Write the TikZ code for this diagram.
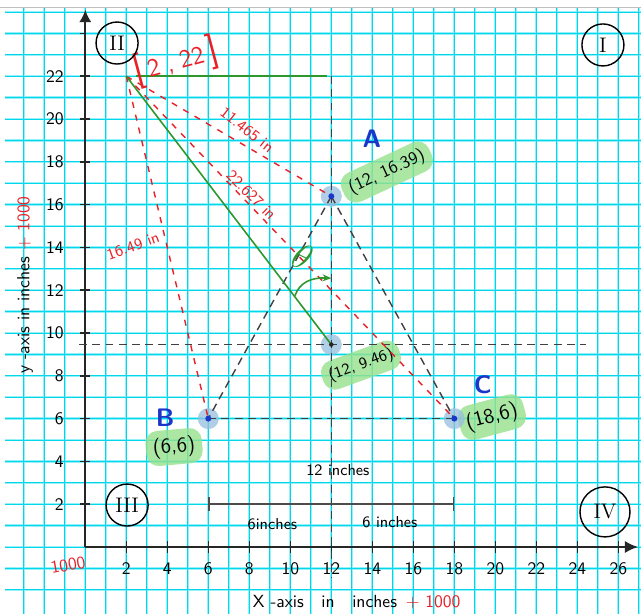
\documentclass[tikz,border=0pt]{standalone}
\usepackage{amsmath}
\usepackage{xcolor}
\usepackage{tikz}
\usetikzlibrary{arrows.meta}
\renewcommand{\familydefault}{\sfdefault}

\definecolor{gridlight}{RGB}{150,240,250}
\definecolor{gridcyan}{RGB}{0,215,235}
\definecolor{penred}{RGB}{232,32,40}
\definecolor{pengreen}{RGB}{45,150,45}
\definecolor{penblue}{RGB}{25,55,200}
\definecolor{halocol}{RGB}{150,190,220}
\definecolor{marker}{RGB}{150,225,140}

\begin{document}
\begin{tikzpicture}[
        x=0.41cm, y=0.428cm,
        gridwide/.style={color=gridlight, line width=1.3pt},
        gridthin/.style={color=gridcyan, line width=0.45pt},
        axis/.style={line width=1.1pt, color=black!85},
        tick/.style={line width=0.9pt, color=black!85},
        ticklabel/.style={font=\normalsize},
        guide/.style={dash pattern=on 4.5pt off 3pt, line width=0.8pt, color=black!75},
        reddash/.style={dash pattern=on 3.5pt off 4pt, line width=0.8pt, color=penred},
        greenline/.style={line width=0.9pt, color=pengreen},
        dimline/.style={line width=0.8pt, color=black!70},
        redtext/.style={color=penred, font=\small},
        note/.style={font=\small},
        halo/.style={circle, fill=halocol, fill opacity=0.75, minimum size=0.42cm, inner sep=0pt},
        dot/.style={circle, fill=penblue, minimum size=0.12cm, inner sep=0pt},
        highlight/.style={fill=marker, fill opacity=0.8, text opacity=1, rounded corners=7pt, inner sep=4pt, font=\large},
        pointname/.style={color=penblue, font=\Large\bfseries},
        quadrant/.style={draw, circle, line width=0.8pt, minimum size=0.84cm, inner sep=0pt, font=\large\rmfamily}
    ]

    \useasboundingbox (-4.161, -3.131) rectangle (27.107, 25.561);

    \foreach \gx in {-3,...,27}
        \draw[gridwide] (\gx, -3.131) -- (\gx, 25.23);
    \foreach \gy in {-2,...,25}
        \draw[gridwide] (-3.92, \gy) -- (27.107, \gy);
    \foreach \gx in {-3,...,27}
        \draw[gridthin] (\gx, -3.131) -- (\gx, 25.23);
    \foreach \gy in {-2,...,25}
        \draw[gridthin] (-3.92, \gy) -- (27.107, \gy);
    \draw[color=black!25, line width=0.6pt] (-4.161, 25.23) -- (27.107, 25.23);

    \coordinate (origin) at (0, 0);
    \coordinate (xend) at (26.96, 0);
    \coordinate (yend) at (0, 25.1);

    \coordinate (corner) at (2, 22);
    \coordinate (pa) at (12, 16.39);
    \coordinate (pb) at (6, 6);
    \coordinate (pc) at (18, 6);
    \coordinate (pm) at (12, 9.46);
    \coordinate (ptop) at (12, 22);
    \coordinate (pbottom) at (12, -1.45);
    \coordinate (gstart) at (2.45, 22);
    \coordinate (gstop) at (11.8, 22);
    \coordinate (hleft) at (-0.3, 9.46);
    \coordinate (hright) at (24.4, 9.46);
    \coordinate (arcstart) at (10.23, 11.75);
    \coordinate (arcend) at (12, 12.56);
    \coordinate (dimleft) at (6, 2);
    \coordinate (dimright) at (18, 2);

    \node[highlight, rotate=25, font=\normalsize] (coorda) at (14.71, 17.52) {(12, 16.39)};
    \node[highlight, rotate=20, font=\small] (coordm) at (13.45, 8.50) {(12, 9.46)};
    \node[highlight, rotate=5] (coordb) at (4.33, 4.67) {(6,6)};
    \node[highlight, rotate=15] (coordc) at (19.84, 6.07) {(18,6)};

    \node[halo] (haloa) at (pa) {};
    \node[halo] (halom) at (pm) {};
    \node[halo] (halob) at (pb) {};
    \node[halo] (haloc) at (pc) {};

    \draw[axis, -{Latex[length=7.5pt, width=7pt]}] (origin) -- (xend);
    \draw[axis, -{Latex[length=7pt, width=7pt]}] (origin) -- (yend);

    \foreach \tx in {2,4,...,26} {
        \draw[tick] (\tx, -0.3) -- (\tx, 0.3);
        \node[ticklabel] (xl\tx) at (\tx, -1) {\tx};
    }
    \foreach \ty in {2,4,...,22} {
        \draw[tick] (-0.25, \ty) -- (0.25, \ty);
        \node[ticklabel, anchor=east] (yl\ty) at (-0.75, \ty) {\ty};
    }
    \draw[tick] (-0.25, 24) -- (0, 24);

    \draw[guide] (ptop) -- (pbottom);
    \draw[guide] (hleft) -- (hright);
    \draw[guide] (pa) -- (pb);
    \draw[guide] (pa) -- (pc);
    \draw[guide] (pb) -- (pc);

    \draw[reddash] (corner) -- (pa);
    \draw[reddash] (corner) -- (pc);
    \draw[reddash] (corner) -- (pb);

    \draw[greenline] (gstart) -- (gstop);
    \draw[greenline] (corner) -- (pm);
    \draw[greenline, -{Stealth[length=5pt, width=4pt]}] (arcstart) .. controls (10.45, 12.35) and (11, 12.6) .. (arcend);
    \node[color=pengreen, font=\huge, rotate=-25] (theta) at (10.63, 13.57) {$\theta$};

    \node[dot] (dota) at (pa) {};
    \node[dot, fill=black!85, minimum size=0.09cm] (dotm) at (pm) {};
    \node[dot] (dotb) at (pb) {};
    \node[dot] (dotc) at (pc) {};

    \node[pointname] (namea) at (13.98, 19.1) {A};
    \node[pointname] (nameb) at (3.89, 6.03) {B};
    \node[pointname] (namec) at (19.39, 7.57) {C};

    \node[redtext, font=\Large, rotate=15] (cornerlabel) at (4.4, 22.7) {{\huge[}\,2\;,\;22\,{\huge]}};
    \node[redtext, rotate=-38] (lena) at (7.89, 19.49) {11.465 in};
    \node[redtext, rotate=-45] (lenc) at (8.1, 16.45) {22.627 in};
    \node[redtext, rotate=20] (lenb) at (2.33, 14.07) {16.49 in};

    \draw[dimline, {Bar[width=8pt]}-{Bar[width=8pt]}] (dimleft) -- (dimright);
    \node[note] (twelve) at (12.32, 3.60) {12 inches};
    \node[note] (sixleft) at (9.13, 1.07) {6inches};
    \node[note] (sixright) at (14.86, 1.17) {6 inches};

    \node[quadrant] (q2) at (1.55, 23.55) {II};
    \node[quadrant] (q1) at (25.25, 23.46) {I};
    \node[quadrant] (q3) at (2.04, 1.96) {III};
    \node[quadrant, minimum size=1cm] (q4) at (25.35, 1.64) {IV};

    \node[color=penred, rotate=10] (offset) at (-0.84, -0.84) {1000};
    \node (xlabel) at (13.24, -2.57) {X -axis\quad in\quad inches\enspace{\color{penred}+ 1000}};
    \node[rotate=90] (ylabel) at (-2.94, 12.24) {y -axis in inches {\color{penred}+ 1000}};

\end{tikzpicture}
\end{document}
